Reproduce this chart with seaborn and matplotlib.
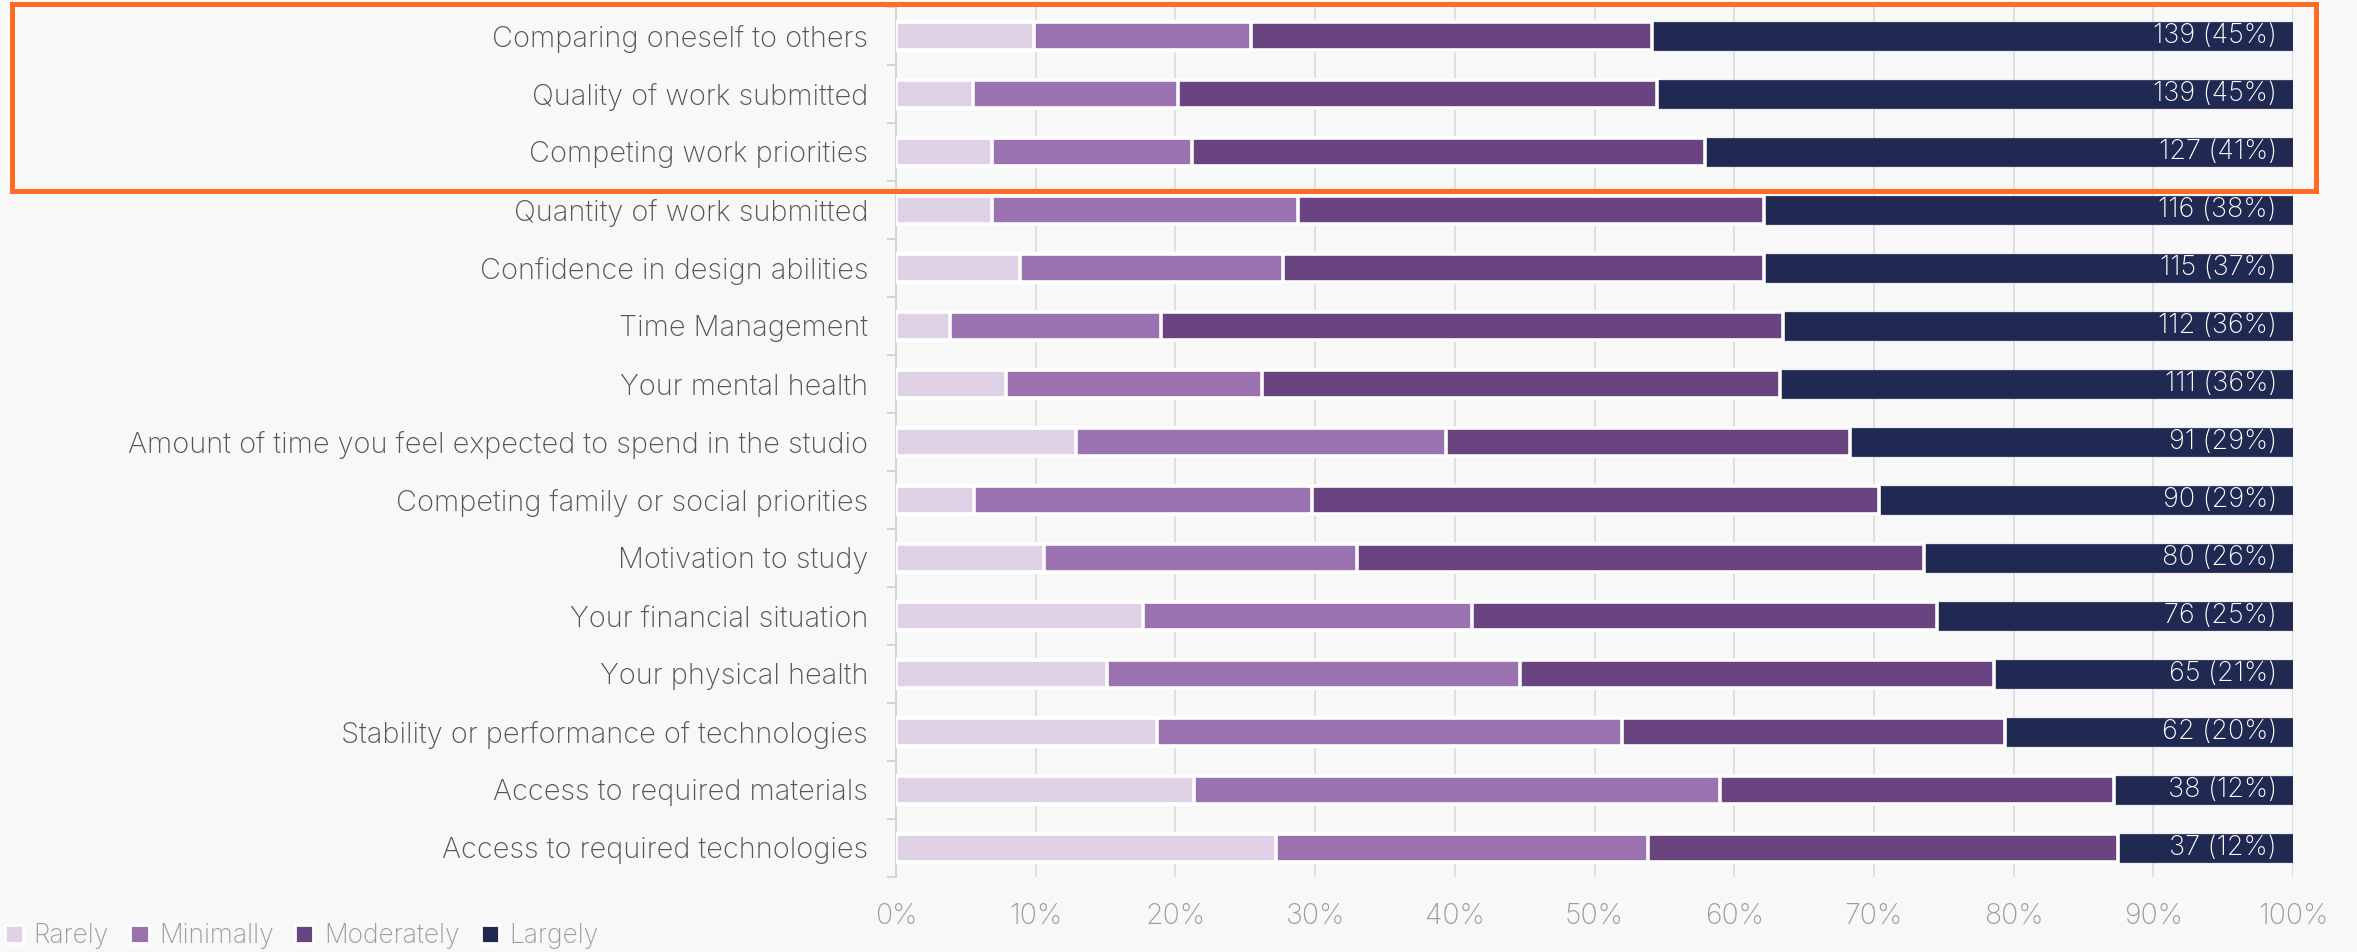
import numpy as np
import pandas as pd
import matplotlib
matplotlib.use("Agg")
import matplotlib.pyplot as plt
from matplotlib.patches import Patch, Rectangle
import seaborn as sns

categories = [
    "Comparing oneself to others",
    "Quality of work submitted",
    "Competing work priorities",
    "Quantity of work submitted",
    "Confidence in design abilities",
    "Time Management",
    "Your mental health",
    "Amount of time you feel expected to spend in the studio",
    "Competing family or social priorities",
    "Motivation to study",
    "Your financial situation",
    "Your physical health",
    "Stability or performance of technologies",
    "Access to required materials",
    "Access to required technologies",
]
rarely = [9.9, 5.5, 6.9, 6.9, 8.9, 3.9, 7.9, 12.9, 5.6, 10.6, 17.7, 15.1, 18.7, 21.3, 27.2]
minimally = [15.5, 14.7, 14.3, 21.9, 18.8, 15.1, 18.3, 26.5, 24.2, 22.4, 23.5, 29.6, 33.3, 37.7, 26.6]
moderately = [28.7, 34.3, 36.7, 33.3, 34.4, 44.5, 37.1, 28.9, 40.6, 40.6, 33.3, 33.9, 27.4, 28.2, 33.7]
largely = [45.9, 45.5, 42.1, 37.9, 37.9, 36.5, 36.7, 31.7, 29.7, 26.4, 25.5, 21.4, 20.6, 12.8, 12.5]
largely_counts = [139, 139, 127, 116, 115, 112, 111, 91, 90, 80, 76, 65, 62, 38, 37]
largely_pct_labels = [45, 45, 41, 38, 37, 36, 36, 29, 29, 26, 25, 21, 20, 12, 12]
series_names = ["Rarely", "Minimally", "Moderately", "Largely"]
colors = ["#ded1e6", "#9b72b0", "#6a4480", "#1f2951"]
xticks = [0, 10, 20, 30, 40, 50, 60, 70, 80, 90, 100]

sns.set_theme(style="white")
plt.rcParams["font.family"] = ["Inter", "DejaVu Sans"]
plt.rcParams["font.weight"] = "light"

W, H = 2357, 952
fig = plt.figure(figsize=(W / 100, H / 100), dpi=100)
fig.patch.set_facecolor("#f8f8f8")
ax = fig.add_axes([896 / W, 1 - 877 / H, (2293 - 896) / W, (877 - 7) / H])
ax.set_facecolor("#f8f8f8")

df = pd.DataFrame({"cat": categories, "Rarely": rarely, "Minimally": minimally,
                   "Moderately": moderately, "Largely": largely})
cum = df[series_names].cumsum(axis=1)
cum["cat"] = categories

# draw cumulative bars from the widest (Largely) to the narrowest (Rarely)
for idx in range(len(series_names) - 1, -1, -1):
    name = series_names[idx]
    if name == "Largely":
        ec, lw, bw = "#3a4268", 0.8, 0.49
    else:
        ec, lw, bw = "white", 2.6, 0.47
    sns.barplot(data=cum, x=name, y="cat", orient="h",
                color=colors[idx], width=bw, edgecolor=ec, linewidth=lw,
                saturation=1, ax=ax, zorder=3)

for i, (c, p) in enumerate(zip(largely_counts, largely_pct_labels)):
    ax.text(98.85, i, f"{c} ({p}%)", ha="right", va="center", color="white",
            fontsize=19.5, fontweight="light", zorder=5)

ax.set_xlim(0, 100)
ax.set_ylim(len(categories) - 0.5, -0.5)
ax.set_xticks(xticks)
ax.set_xticklabels([f"{t}%" for t in xticks], fontweight="light")
ax.set_yticks(range(len(categories)))
ax.set_yticklabels(categories, fontweight="light")
ax.set_xlabel("")
ax.set_ylabel("")
ax.set_yticks(np.arange(-0.5, len(categories), 1.0), minor=True)
ax.tick_params(axis="y", which="major", length=0, pad=20, labelsize=20.8, labelcolor="#555555")
ax.tick_params(axis="y", which="minor", length=6.5, width=1.3, color="#d2d2d2", left=True)
ax.tick_params(axis="x", which="major", length=0, pad=19, labelsize=20.5, labelcolor="#9c9c9c")
ax.grid(axis="x", color="#dedede", linewidth=1.3, zorder=0)
ax.grid(axis="y", visible=False)
ax.set_axisbelow(True)
for s in ["top", "right", "bottom"]:
    ax.spines[s].set_visible(False)
ax.spines["left"].set_color("#d2d2d2")
ax.spines["left"].set_linewidth(1.3)

# highlight box
fig.patches.append(Rectangle((12 / W, 1 - 191 / H), (2316 - 12) / W, (191 - 4) / H,
                             transform=fig.transFigure, fill=False,
                             edgecolor="#ff6a24", linewidth=3.6, zorder=10))

handles = [Patch(facecolor=c, edgecolor="white", linewidth=2.0, label=n)
           for c, n in zip(colors, series_names)]
leg = fig.legend(handles=handles, loc="center left", bbox_to_anchor=(0.002, 1 - 936 / H),
                 ncol=4, frameon=False, handlelength=0.7, handleheight=0.7,
                 handletextpad=0.4, columnspacing=0.8, borderaxespad=0, borderpad=0,
                 prop={"size": 19, "weight": "light"})
for t in leg.get_texts():
    t.set_color("#9c9c9c")

fig.savefig("out.png", dpi=100, facecolor=fig.get_facecolor())
